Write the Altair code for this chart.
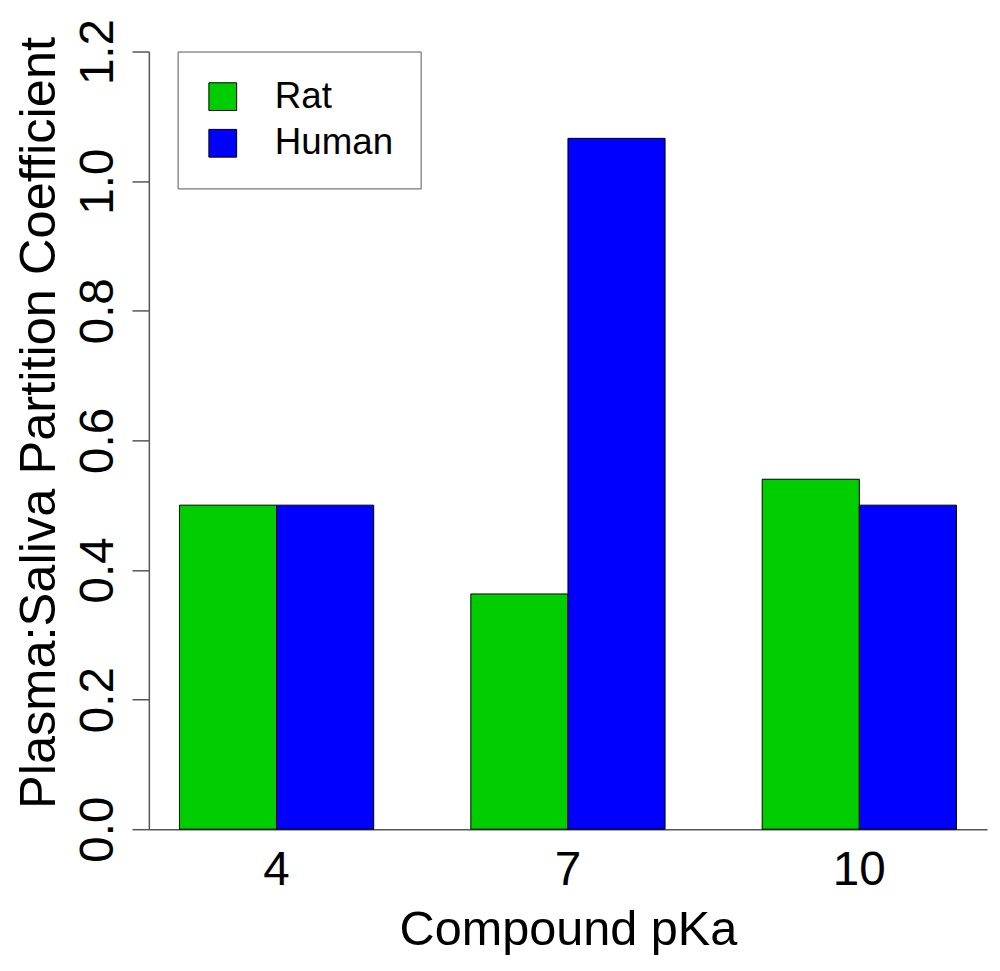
import altair as alt
import pandas as pd

pka = ["4", "7", "10"]
species = ["Rat", "Human"]
rat = [0.50, 0.363, 0.540]
human = [0.50, 1.066, 0.50]
colors = ["#00CD00", "#0000FF"]
y_ticks = [0.0, 0.2, 0.4, 0.6, 0.8, 1.0, 1.2]

rows = []
for i, p in enumerate(pka):
    rows.append({"pKa": p, "Species": "Rat", "value": rat[i]})
    rows.append({"pKa": p, "Species": "Human", "value": human[i]})
df = pd.DataFrame(rows)

FONT = "Liberation Sans"

chart = alt.Chart(df).mark_bar(stroke="black", strokeWidth=1).encode(
    x=alt.X(
        "pKa:N", sort=pka,
        scale=alt.Scale(paddingInner=1/3, paddingOuter=0.105),
        axis=alt.Axis(
            title="Compound pKa", labelAngle=0, ticks=False, tickSize=0,
            domain=True, domainColor="#555", domainWidth=1.5,
            labelFontSize=48, labelBaseline="alphabetic", labelPadding=56,
            labelColor="black", labelFont=FONT,
            titleFontSize=49, titleBaseline="alphabetic", titleY=116,
            titleFontWeight="normal", titleColor="black", titleFont=FONT,
        ),
    ),
    xOffset=alt.XOffset("Species:N", sort=species,
                        scale=alt.Scale(paddingInner=0, paddingOuter=0)),
    y=alt.Y(
        "value:Q",
        scale=alt.Scale(domain=[0, 1.2], nice=False, zero=True),
        axis=alt.Axis(
            values=y_ticks, format=".1f", grid=False,
            title="Plasma:Saliva Partition Coefficient",
            labelAngle=270, labelAlign="center", labelBaseline="alphabetic",
            labelPadding=20, tickSize=17, tickColor="#555", tickWidth=1.5,
            domainColor="#555", domainWidth=1.5, labelOverlap=False,
            labelFontSize=48, labelColor="black", labelFont=FONT,
            titleFontSize=51, titleAngle=270, titleAlign="center",
            titleBaseline="alphabetic", titleX=-95, titleY=374,
            titleFontWeight="normal", titleColor="black", titleFont=FONT,
        ),
    ),
    color=alt.Color(
        "Species:N", sort=species,
        scale=alt.Scale(domain=species, range=colors),
        legend=alt.Legend(
            title=None, orient="none", legendX=29, legendY=0,
            symbolType="square", symbolSize=784, symbolStrokeColor="black",
            symbolStrokeWidth=1, labelFontSize=37, labelOffset=34,
            labelFont=FONT, labelColor="black",
            padding=27, rowPadding=9, strokeColor="#555",
        ),
    ),
).properties(
    width=845, height=784,
    padding={"left": 142, "top": 40, "right": 5, "bottom": 130},
    autosize=alt.AutoSizeParams(type="none"),
).configure_view(stroke=None)

chart.save("out.html", embed_options={"renderer": "svg", "actions": False})
